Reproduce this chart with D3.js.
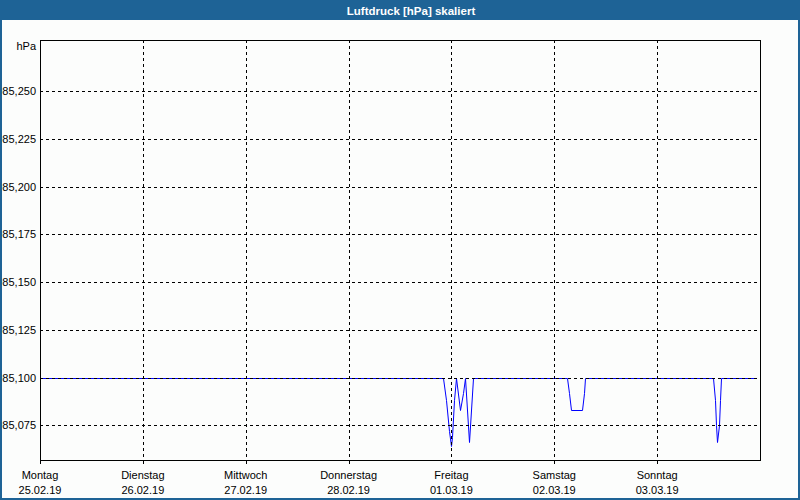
<!DOCTYPE html>
<html>
<head>
<meta charset="utf-8">
<script src="https://cdn.jsdelivr.net/npm/d3@7"></script>
<style>
  html, body { margin: 0; padding: 0; background: #fcfdfc; }
  svg { display: block; }
  text { font-family: "Liberation Sans", Arial, sans-serif; font-size: 11px; fill: #000; }
</style>
</head>
<body>
<svg id="chart" width="800" height="500"></svg>
<script>
// ---- data ----
const chartTitle = "Luftdruck [hPa] skaliert";
const unitLabel = "hPa";
const dayNames = ["Montag", "Dienstag", "Mittwoch", "Donnerstag", "Freitag", "Samstag", "Sonntag"];
const dayDates = ["25.02.19", "26.02.19", "27.02.19", "28.02.19", "01.03.19", "02.03.19", "03.03.19"];
const yTicks = [985.075, 985.100, 985.125, 985.150, 985.175, 985.200, 985.225, 985.250];
const times = [
  "2019-02-25T00:00",
  "2019-02-28T22:00", "2019-02-28T22:45", "2019-02-28T23:25", "2019-02-28T23:50",
  "2019-03-01T00:10", "2019-03-01T00:35", "2019-03-01T01:05", "2019-03-01T02:00",
  "2019-03-01T02:40", "2019-03-01T03:05", "2019-03-01T04:10", "2019-03-01T04:55",
  "2019-03-02T03:00", "2019-03-02T03:25", "2019-03-02T03:55", "2019-03-02T06:25",
  "2019-03-02T06:50", "2019-03-02T07:10",
  "2019-03-03T13:00", "2019-03-03T13:23", "2019-03-03T13:44", "2019-03-03T13:58",
  "2019-03-03T14:19", "2019-03-03T14:40", "2019-03-03T15:00",
  "2019-03-03T23:10"
];
const pressure = [
  985.100,
  985.100, 985.088, 985.072, 985.064,
  985.069, 985.088, 985.100, 985.083,
  985.092, 985.100, 985.066, 985.100,
  985.100, 985.092, 985.083, 985.083,
  985.092, 985.100,
  985.100, 985.088, 985.075, 985.066,
  985.075, 985.088, 985.100,
  985.100
];

// ---- layout ----
const W = 800, H = 500;
const mLeft = 40, mRight = 760, mTop = 40, mBottom = 460;
const parse = d3.timeParse("%Y-%m-%dT%H:%M");
const series = times.map((t, i) => ({ t: parse(t), v: pressure[i] }));

const x = d3.scaleTime()
  .domain([parse("2019-02-25T00:00"), parse("2019-03-04T00:00")])
  .range([mLeft, mRight]);
const y = d3.scaleLinear()
  .domain([985.0568, 985.2769])
  .range([mBottom, mTop]);

const svg = d3.select("#chart");
svg.append("rect").attr("width", W).attr("height", H).attr("fill", "#fcfdfc");

const px = v => Math.round(v) + 0.5;

svg.append("clipPath").attr("id", "plotclip")
  .append("rect").attr("x", mLeft).attr("y", mTop).attr("width", mRight - mLeft).attr("height", mBottom - mTop);

// data line (beneath grid)
svg.append("path")
  .datum(series)
  .attr("clip-path", "url(#plotclip)")
  .attr("fill", "none")
  .attr("stroke", "#0000ff")
  .attr("stroke-width", 1)
  .attr("d", d3.line().x(d => px(x(d.t))).y(d => px(y(d.v))));

// grid lines
const dayTicks = dayNames.map((_, i) => d3.timeDay.offset(parse("2019-02-25T00:00"), i));
const grid = svg.append("g").attr("shape-rendering", "crispEdges");
grid.selectAll("line.v").data(dayTicks.slice(1)).join("line")
  .attr("x1", d => px(x(d))).attr("x2", d => px(x(d)))
  .attr("y1", mTop).attr("y2", mBottom)
  .attr("stroke", "#000").attr("stroke-dasharray", "3,3");
grid.selectAll("line.h").data(yTicks).join("line")
  .attr("x1", mLeft).attr("x2", mRight)
  .attr("y1", d => px(y(d))).attr("y2", d => px(y(d)))
  .attr("stroke", "#000").attr("stroke-dasharray", "3,3");

// frame
svg.append("rect")
  .attr("x", mLeft + 0.5).attr("y", mTop + 0.5)
  .attr("width", mRight - mLeft).attr("height", mBottom - mTop)
  .attr("fill", "none").attr("stroke", "#000").attr("shape-rendering", "crispEdges");

// x axis tick marks below frame
const xAxis = svg.append("g").attr("transform", `translate(0.5,${mBottom + 1})`)
  .call(d3.axisBottom(x).tickValues(dayTicks).tickSize(3).tickFormat(""));
xAxis.select(".domain").remove();
xAxis.selectAll(".tick").attr("transform", d => `translate(${Math.round(x(d))},0)`);
xAxis.selectAll("line").attr("stroke", "#000").attr("shape-rendering", "crispEdges");

const xl = svg.append("g");
xl.selectAll("text.day").data(dayTicks).join("text")
  .attr("x", d => x(d)).attr("y", 479)
  .attr("text-anchor", "middle")
  .text((d, i) => dayNames[i]);
xl.selectAll("text.date").data(dayTicks).join("text")
  .attr("x", d => x(d)).attr("y", 494)
  .attr("text-anchor", "middle")
  .text((d, i) => dayDates[i]);

// y labels
const fmt = v => v.toFixed(3).replace(".", ",");
svg.append("g").selectAll("text").data(yTicks).join("text")
  .attr("x", 36).attr("y", d => y(d) + 4)
  .attr("text-anchor", "end")
  .text(d => fmt(d));
svg.append("text").attr("x", 36).attr("y", 50).attr("text-anchor", "end").text(unitLabel);

// title bar and border
svg.append("rect").attr("x", 0).attr("y", 0).attr("width", W).attr("height", 20).attr("fill", "#1e6396");
svg.append("text").attr("x", 411).attr("y", 14.5).attr("text-anchor", "middle")
  .style("font-weight", "bold").style("font-size", "11.5px").style("fill", "#ffffff").text(chartTitle);
svg.append("rect").attr("x", 1).attr("y", 1).attr("width", W - 2).attr("height", H - 2)
  .attr("fill", "none").attr("stroke", "#1e6396").attr("stroke-width", 2);
</script>
</body>
</html>
